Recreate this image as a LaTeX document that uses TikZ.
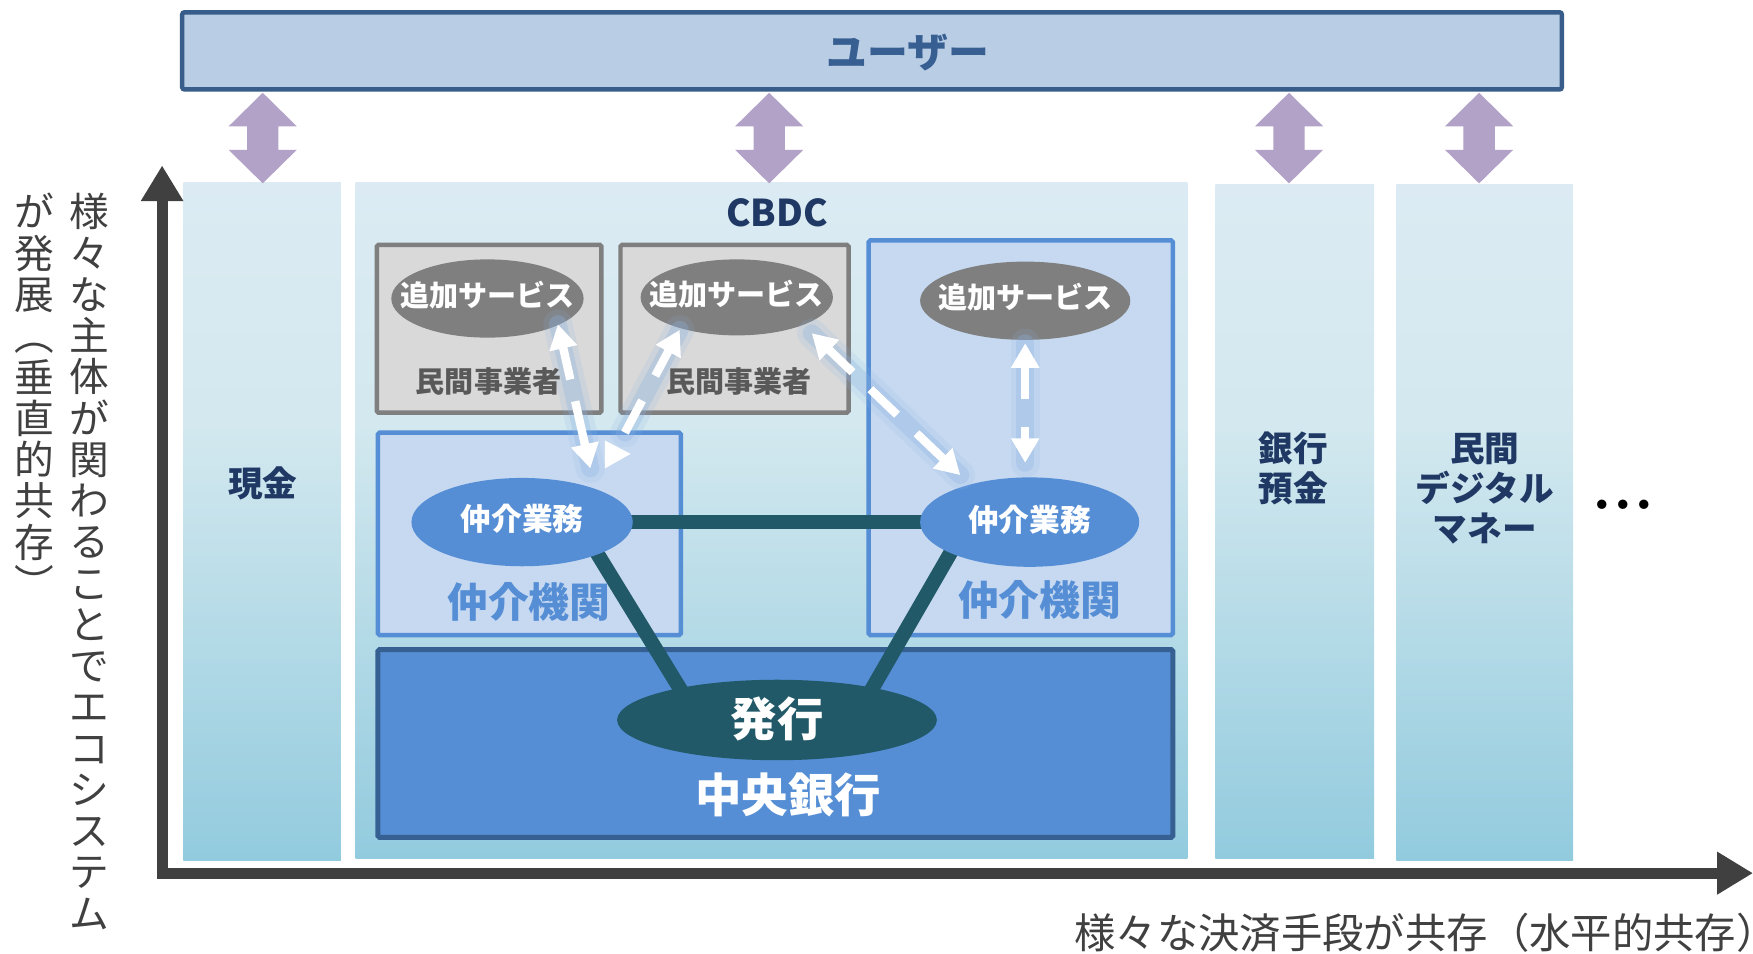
\documentclass[tikz,border=0pt]{standalone}
\usepackage{fontspec}
\setmainfont{Noto Sans CJK JP}
\usetikzlibrary{arrows.meta,shapes.geometric}
\definecolor{userfill}{HTML}{B9CDE5}
\definecolor{userline}{HTML}{385D8A}
\definecolor{usertext}{HTML}{375F92}
\definecolor{purp}{HTML}{B3A2C7}
\definecolor{colTop}{HTML}{DCEBF3}
\definecolor{colMid}{HTML}{D3E8EF}
\definecolor{colBot}{HTML}{92CBDE}
\definecolor{navy}{HTML}{1F3864}
\definecolor{gfill}{HTML}{D9D9D9}
\definecolor{gline}{HTML}{7F7F7F}
\definecolor{gtext}{HTML}{595959}
\definecolor{bfill}{HTML}{C6D9F1}
\definecolor{bline}{HTML}{558ED5}
\definecolor{cbline}{HTML}{376092}
\definecolor{dteal}{HTML}{215968}
\definecolor{axisc}{HTML}{404040}
\definecolor{glowc}{HTML}{8EB4E3}
\pgfdeclareverticalshading{colgrad}{100bp}{color(0bp)=(colBot); color(25bp)=(colBot); color(57bp)=(colMid); color(75bp)=(colTop); color(100bp)=(colTop)}
\newcommand\jfs[2]{\fontsize{#1}{#2}\selectfont\bfseries}
\begin{document}
\begin{tikzpicture}[x=1pt,y=-1pt,
  colbox/.style={rectangle,draw=none,inner sep=0pt,outer sep=0pt,shade,shading=colgrad},
  gbox/.style={rectangle,draw=gline,fill=gfill,line width=4pt,inner sep=0pt,rounded corners=1.5pt},
  bbox/.style={rectangle,draw=bline,fill=bfill,line width=4pt,inner sep=0pt,rounded corners=1.5pt},
  cbbox/.style={rectangle,draw=cbline,fill=bline,line width=4.5pt,inner sep=0pt,rounded corners=1.5pt},
  gell/.style={ellipse,fill=gline,inner sep=0pt},
  bell/.style={ellipse,fill=bline,inner sep=0pt},
  hell/.style={ellipse,fill=dteal,inner sep=0pt},
  wlbl/.style={inner sep=0pt,text=white},
  lbl/.style={inner sep=0pt,outer sep=0pt},
  link/.style={draw=dteal,line width=13pt},
  wline/.style={draw=white,line width=7.5pt},
  tipT/.tip={Triangle[width=24pt,length=22pt]},
  glowA/.style={draw=glowc,line width=26pt,opacity=0.15,line cap=round},
  glowB/.style={draw=glowc,line width=16pt,opacity=0.3,line cap=round},
]
\useasboundingbox (0,0) rectangle (1568,853);
% columns
\node[colbox,minimum width=141pt,minimum height=607pt] (cash) at (234.5,466.5) {};
\node[colbox,minimum width=744pt,minimum height=605pt] (cbdc) at (690,465.5) {};
\node[colbox,minimum width=142pt,minimum height=603pt] (bank) at (1158,466.5) {};
\node[colbox,minimum width=158pt,minimum height=605pt] (pdm) at (1328,467.5) {};
% user bar
\node[rectangle,draw=userline,fill=userfill,line width=4pt,rounded corners=2pt,minimum width=1234pt,minimum height=69pt] (user) at (780,45.5) {};
\node[lbl,text=usertext,font=\jfs{36.5}{36.5}] (userlbl) at (812,47) {ユーザー};
% purple double arrows
\foreach \x in {235,688,1153,1323}
  \fill[purp] (\x,83) -- ++(30.5,30) -- ++(-16.5,0) -- ++(0,21) -- ++(16.5,0) -- (\x,164)
     -- ++(-30.5,-30) -- ++(16.5,0) -- ++(0,-21) -- ++(-16.5,0) -- cycle;
% boxes
\node[gbox,minimum width=201pt,minimum height=150pt] (p1) at (437.5,294) {};
\node[gbox,minimum width=204pt,minimum height=150pt] (p2) at (657,294) {};
\node[bbox,minimum width=271pt,minimum height=181pt] (iL) at (473.5,477.5) {};
\node[bbox,minimum width=272pt,minimum height=353pt] (iR) at (913,391.5) {};
\node[cbbox,minimum width=711pt,minimum height=168pt] (cb) at (693.5,665) {};
% links
\coordinate (hL) at (540,467); \coordinate (hR) at (850,467);
\coordinate (l1a) at (525,480); \coordinate (l1b) at (615,627);
\coordinate (l2a) at (858,481); \coordinate (l2b) at (776,623);
\draw[link] (hL) -- (hR);
\draw[link] (l1a) -- (l1b);
\draw[link] (l2a) -- (l2b);
% ellipses
\node[gell,minimum width=172pt,minimum height=70pt] (s1) at (436,267) {};
\node[gell,minimum width=172pt,minimum height=68pt] (s2) at (659,266) {};
\node[gell,minimum width=188pt,minimum height=70pt] (s3) at (917,269) {};
\node[bell,minimum width=198pt,minimum height=79pt] (mL) at (467,467) {};
\node[bell,minimum width=196pt,minimum height=80pt] (mR) at (921,467) {};
\node[hell,minimum width=286pt,minimum height=72pt] (hk) at (695,644) {};
\node[wlbl,font=\jfs{26}{26}] (s1t) at (436,264) {追加サービス};
\node[wlbl,font=\jfs{26}{26}] (s2t) at (659,263) {追加サービス};
\node[wlbl,font=\jfs{26}{26}] (s3t) at (917,266) {追加サービス};
\node[wlbl,font=\jfs{27.5}{27.5}] (mLt) at (467,464) {仲介業務};
\node[wlbl,font=\jfs{27.5}{27.5}] (mRt) at (921,465) {仲介業務};
\node[wlbl,font=\jfs{41.5}{41.5}] (hkt) at (695,643) {発行};
% white arrows
\coordinate (a1s) at (499,290); \coordinate (a1e) at (528,419);
\coordinate (a2s) at (608,295); \coordinate (a2e) at (559,387);
\coordinate (a3s) at (726,298); \coordinate (a3e) at (859,425);
\coordinate (a4s) at (917,307); \coordinate (a4e) at (917,414);
\foreach \s/\e in {a1s/a1e,a2s/a2e,a3s/a3e,a4s/a4e}{
  \draw[glowA] (\s) -- (\e);
  \draw[glowB] (\s) -- (\e);
}
\draw[wline,tipT-tipT,dash pattern=on 30pt off 20pt on 300pt] (a1s) -- (a1e);
\draw[wline,tipT-,dash pattern=on 26pt off 25pt on 300pt] (a2s) -- (a2e);
\fill[white] (541,394) -- (564,406) -- (541,419) -- cycle;
\draw[wline,tipT-tipT,dash pattern=on 30pt off 22pt on 33pt off 24pt on 300pt] (a3s) -- (a3e);
\draw[wline,tipT-tipT,dash pattern=on 29pt off 25pt on 300pt] (a4s) -- (a4e);
% labels
\node[lbl,text=gtext,font=\jfs{26}{26}] (p1t) at (437,341) {民間事業者};
\node[lbl,text=gtext,font=\jfs{26}{26}] (p2t) at (661,341) {民間事業者};
\node[lbl,text=bline,font=\jfs{36.5}{36.5}] (iLt) at (473,538) {仲介機関};
\node[lbl,text=bline,font=\jfs{36.5}{36.5}] (iRt) at (930,537) {仲介機関};
\node[lbl,text=white,font=\jfs{41.5}{41.5}] (cbt) at (705,711) {中央銀行};
\node[lbl,text=navy,font=\jfs{31}{36}] (casht) at (235,432) {現金};
\node[lbl,text=navy,font=\jfs{33}{33}] (cbdct) at (695,190) {CBDC};
\node[lbl,text=navy,font=\jfs{31}{36},align=center] (bankt) at (1157,419) {銀行\\預金};
\node[lbl,text=navy,font=\jfs{31}{36},align=center] (pdmt) at (1328,437) {民間\\デジタル\\マネー};
\node[lbl,text=black,font=\jfs{30}{30}] (dots) at (1452,455) {・\kern-11pt・\kern-11pt・};
% axes
\coordinate (ytop) at (145,148); \coordinate (origin) at (145,781); \coordinate (xend) at (1568,781);
\draw[draw=axisc,line width=10pt,{Triangle[width=36pt,length=32pt]}-{Triangle[width=36pt,length=32pt]}] (ytop) -- (origin) -- (xend);
\node[lbl,anchor=north,align=center,text=axisc,font=\fontsize{35.5}{36.9}\selectfont] (vlab1) at (80,173)
  {様\\々\\な\\主\\体\\が\\関\\わ\\る\\こ\\と\\で\\エ\\コ\\シ\\ス\\テ\\ム};
\node[lbl,anchor=north,align=center,text=axisc,font=\fontsize{35.5}{36.9}\selectfont] (vlab2) at (31,173)
  {が\\発\\展\\︵\\垂\\直\\的\\共\\存\\︶};
\node[lbl,anchor=west,text=axisc,font=\fontsize{37}{37}\selectfont] (hlab) at (961,834) {様々な決済手段が共存（水平的共存）\kern-24pt};
\end{tikzpicture}
\end{document}
